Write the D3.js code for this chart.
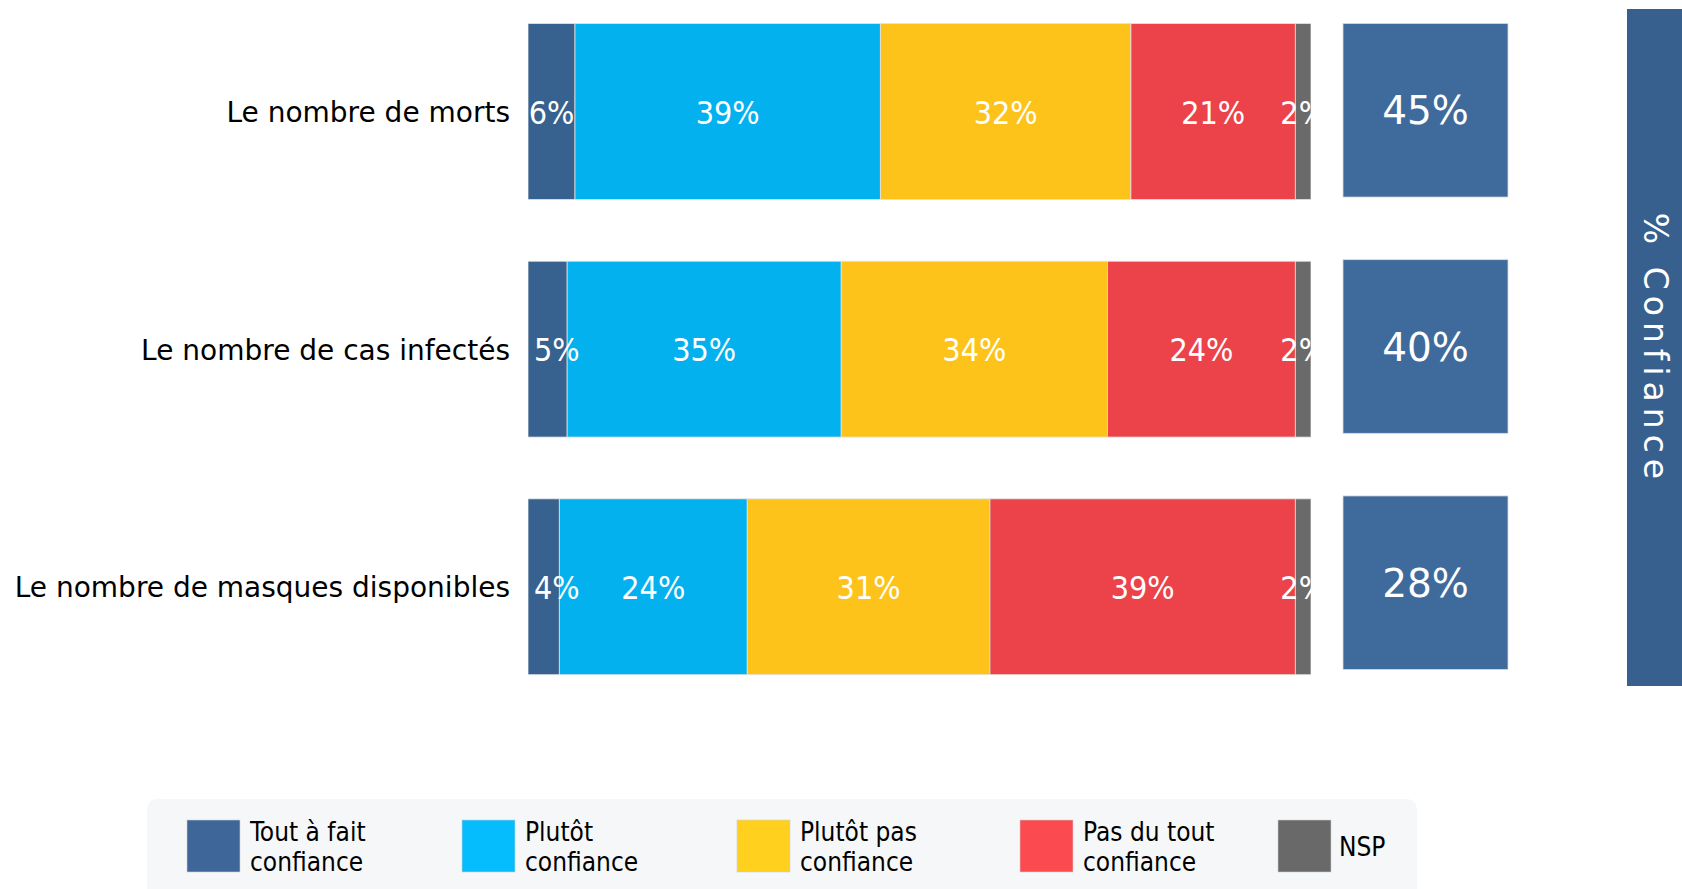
<!DOCTYPE html>
<html>
<head>
<meta charset="utf-8">
<script src="https://cdn.jsdelivr.net/npm/d3@7"></script>
<style>
  html, body { margin: 0; padding: 0; background: #ffffff; overflow: hidden; }
  svg { display: block; }
  .cond { font-family: 'DejaVu Sans Condensed', 'DejaVu Sans', sans-serif; font-stretch: condensed; }
  .reg { font-family: 'DejaVu Sans', Verdana, sans-serif; }
</style>
</head>
<body>
<svg id="chart" width="1682" height="889"></svg>
<script>
// ---- data ----
const categories = ["Le nombre de morts", "Le nombre de cas infectés", "Le nombre de masques disponibles"];
const seriesKeys = ["Tout à fait confiance", "Plutôt confiance", "Plutôt pas confiance", "Pas du tout confiance", "NSP"];
const toutAFait = [6, 5, 4];
const plutot = [39, 35, 24];
const plutotPas = [32, 34, 31];
const pasDuTout = [21, 24, 39];
const nsp = [2, 2, 2];
const confianceTotal = [45, 40, 28];
const legendLines = [["Tout à fait", "confiance"], ["Plutôt", "confiance"], ["Plutôt pas", "confiance"], ["Pas du tout", "confiance"], ["NSP"]];
const sideTitle = "% Confiance";

// ---- layout / styles ----
const barColors = ["#37618f", "#03b1ef", "#fec31a", "#ec434a", "#6a6a6a"];
const legendColors = ["#3e6699", "#05bcfd", "#ffd11e", "#fc4a51", "#696969"];
const legendX = [187, 462, 737, 1020, 1278];
const boxColor = "#3f6a9c";
const sideColor = "#37608f";

const svg = d3.select("#chart");

const rows = categories.map((c, i) => ({
  cat: c,
  [seriesKeys[0]]: toutAFait[i],
  [seriesKeys[1]]: plutot[i],
  [seriesKeys[2]]: plutotPas[i],
  [seriesKeys[3]]: pasDuTout[i],
  [seriesKeys[4]]: nsp[i],
  conf: confianceTotal[i]
}));

const stacked = d3.stack().keys(seriesKeys)(rows);

const x = d3.scaleLinear().domain([0, 100]).range([528, 1311]);
const y = d3.scaleBand().domain(categories).range([-7.3, 705.6]).paddingInner(0.26).paddingOuter(0.13);
const yBox = d3.scaleBand().domain(categories).range([-7.3, 700.3]).paddingInner(0.265).paddingOuter(0.13);

svg.append("defs").append("clipPath").attr("id", "plotclip")
  .append("rect").attr("x", x(0)).attr("y", 0).attr("width", x(100) - x(0)).attr("height", 720);

// category labels
svg.append("g").selectAll("text").data(categories).join("text")
  .attr("class", "reg")
  .attr("x", x(0) - 18)
  .attr("y", d => y(d) + y.bandwidth() / 2)
  .attr("dy", "0.38em")
  .attr("text-anchor", "end")
  .attr("font-size", 28)
  .attr("fill", "#000")
  .text(d => d);

// stacked bars
const plot = svg.append("g").attr("clip-path", "url(#plotclip)");
const layers = plot.selectAll("g.layer").data(stacked).join("g").attr("class", "layer")
  .attr("fill", (d, i) => barColors[i]);

layers.selectAll("rect").data(d => d).join("rect")
  .attr("x", d => x(d[0]))
  .attr("y", d => y(d.data.cat))
  .attr("width", d => x(d[1]) - x(d[0]))
  .attr("height", y.bandwidth())
  .attr("stroke", "#e2e2e2")
  .attr("stroke-width", 0.8);

// labels drawn on top of all segments
const segs = stacked.flatMap(layer => layer.map(d => d));
plot.append("g").selectAll("text").data(segs).join("text")
  .attr("class", "cond")
  .attr("y", d => y(d.data.cat) + y.bandwidth() / 2)
  .attr("dy", "0.38em")
  .attr("font-size", 32)
  .attr("fill", "#ffffff")
  .text(d => (d[1] - d[0]) + "%")
  .each(function (d) {
    const w = this.getComputedTextLength();
    const segW = x(d[1]) - x(d[0]);
    const t = d3.select(this);
    if (d[0] === 0 && w > segW) {
      t.attr("text-anchor", "start").attr("x", x(d[0]) + 6);
    } else {
      t.attr("text-anchor", "middle").attr("x", (x(d[0]) + x(d[1])) / 2);
    }
  });

// confidence boxes
const bx0 = 1343, bx1 = 1508;
const boxes = svg.append("g");
boxes.selectAll("rect").data(rows).join("rect")
  .attr("x", bx0)
  .attr("y", d => yBox(d.cat))
  .attr("width", bx1 - bx0)
  .attr("height", yBox.bandwidth())
  .attr("fill", boxColor)
  .attr("stroke", "#dcdcdc")
  .attr("stroke-width", 0.8);
boxes.selectAll("text").data(rows).join("text")
  .attr("class", "reg")
  .attr("x", (bx0 + bx1) / 2)
  .attr("y", d => yBox(d.cat) + yBox.bandwidth() / 2)
  .attr("dy", "0.36em")
  .attr("text-anchor", "middle")
  .attr("font-size", 39)
  .attr("fill", "#ffffff")
  .text(d => d.conf + "%");

// side panel
svg.append("rect")
  .attr("x", 1627).attr("y", 9).attr("width", 80).attr("height", 677)
  .attr("fill", sideColor);
svg.append("text")
  .attr("class", "reg")
  .attr("transform", "translate(1644,349) rotate(90)")
  .attr("text-anchor", "middle")
  .attr("font-size", 33)
  .attr("letter-spacing", 6)
  .attr("fill", "#ffffff")
  .text(sideTitle);

// legend
svg.append("rect")
  .attr("x", 147).attr("y", 799).attr("width", 1270).attr("height", 110)
  .attr("rx", 10).attr("ry", 10)
  .attr("fill", "#f6f7f9");

const items = svg.append("g").selectAll("g").data(seriesKeys).join("g")
  .attr("transform", (d, i) => `translate(${legendX[i]},820)`);
items.append("rect")
  .attr("width", 53).attr("height", 52)
  .attr("fill", (d, i) => legendColors[i])
  .attr("stroke", "#d0d0d0").attr("stroke-width", 0.6);
items.each(function (d, i) {
  const lines = legendLines[i];
  const g = d3.select(this);
  const t = g.append("text")
    .attr("class", "cond")
    .attr("font-size", 26)
    .attr("fill", "#000");
  if (lines.length === 1) {
    t.append("tspan").attr("x", 61).attr("y", 36).text(lines[0]);
  } else {
    lines.forEach((l, k) => t.append("tspan").attr("x", 63).attr("y", 21 + k * 30).text(l));
  }
});
</script>
</body>
</html>
